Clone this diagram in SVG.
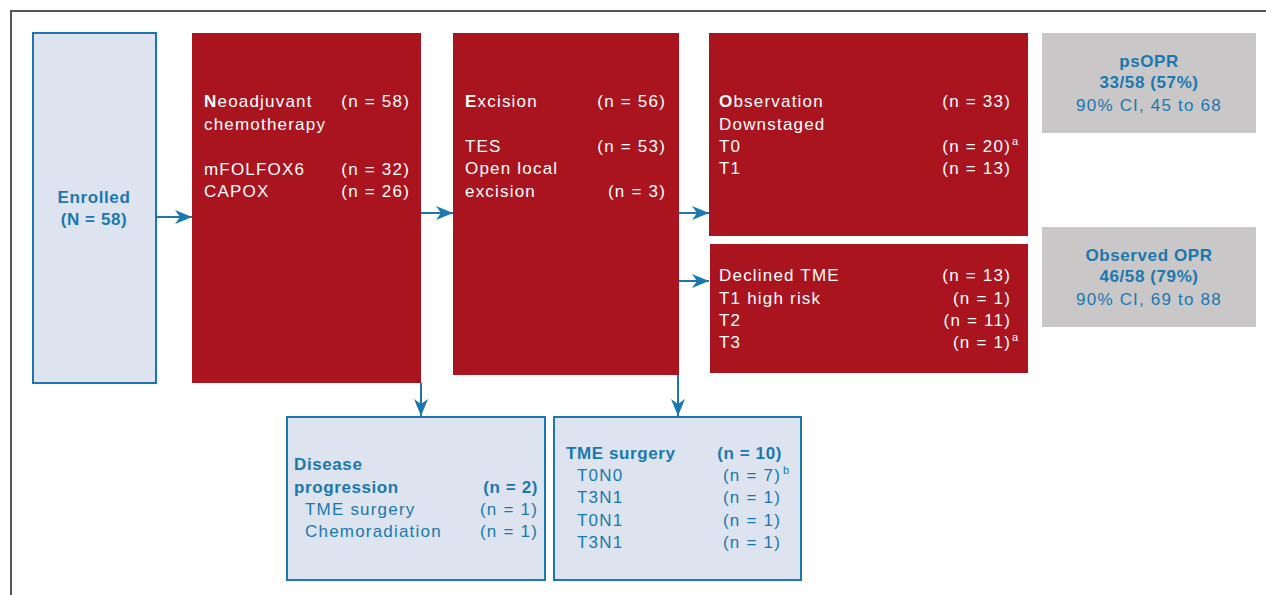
<svg xmlns="http://www.w3.org/2000/svg" width="1266" height="595" viewBox="0 0 1266 595">
<style>
text{font-family:"Liberation Sans",Arial,sans-serif;font-size:17px;letter-spacing:1.2px}
.w{fill:#ffffff}
.b{fill:#1a78ae}
.bold{font-weight:bold;letter-spacing:0.6px}
.e{text-anchor:end}
.m{text-anchor:middle}
.sup{font-size:11px;letter-spacing:0}
.red{fill:#a9141f}
.lb{fill:#dde4f0;stroke:#1a78ae;stroke-width:2}
.gr{fill:#c9c7c8}
.con{stroke:#1a78ae;stroke-width:2;fill:none}
</style>
<defs>
<marker id="ah" markerUnits="userSpaceOnUse" markerWidth="18" markerHeight="16" refX="17" refY="8" orient="auto">
<path d="M0,1 L17,8 L0,15 L5,8 Z" fill="#1a78ae"/>
</marker>
</defs>
<rect width="1266" height="595" fill="#ffffff"/>
<g id="frame">
<path d="M11,595 V11 H1266" fill="none" stroke="#555555" stroke-width="2"/>
</g>
<g id="connectors">
<line class="con" x1="157" y1="217" x2="192" y2="217" marker-end="url(#ah)"/>
<line class="con" x1="421" y1="213" x2="453" y2="213" marker-end="url(#ah)"/>
<line class="con" x1="679" y1="213" x2="709" y2="213" marker-end="url(#ah)"/>
<line class="con" x1="679" y1="281" x2="709" y2="281" marker-end="url(#ah)"/>
<line class="con" x1="421" y1="383" x2="421" y2="416" marker-end="url(#ah)"/>
<line class="con" x1="678" y1="375" x2="678" y2="416" marker-end="url(#ah)"/>
</g>
<g id="enrolled">
<rect class="lb" x="33" y="33" width="123" height="350"/>
<text class="b bold m" x="94" y="203">Enrolled</text>
<text class="b bold m" x="94" y="225">(N = 58)</text>
</g>
<g id="neoadjuvant">
<rect class="red" x="192" y="33" width="229" height="350"/>
<text class="w" x="204" y="107"><tspan font-weight="bold">N</tspan>eoadjuvant</text>
<text class="w e" x="410" y="107">(n = 58)</text>
<text class="w" x="204" y="130">chemotherapy</text>
<text class="w" x="204" y="175">mFOLFOX6</text>
<text class="w e" x="410" y="175">(n = 32)</text>
<text class="w" x="204" y="197">CAPOX</text>
<text class="w e" x="410" y="197">(n = 26)</text>
</g>
<g id="excision">
<rect class="red" x="453" y="33" width="226" height="342"/>
<text class="w" x="465" y="107"><tspan font-weight="bold">E</tspan>xcision</text>
<text class="w e" x="666" y="107">(n = 56)</text>
<text class="w" x="465" y="152">TES</text>
<text class="w e" x="666" y="152">(n = 53)</text>
<text class="w" x="465" y="174">Open local</text>
<text class="w" x="465" y="197">excision</text>
<text class="w e" x="666" y="197">(n = 3)</text>
</g>
<g id="observation">
<rect class="red" x="709" y="33" width="319" height="203"/>
<text class="w" x="719" y="107"><tspan font-weight="bold">O</tspan>bservation</text>
<text class="w e" x="1011" y="107">(n = 33)</text>
<text class="w" x="719" y="130">Downstaged</text>
<text class="w" x="719" y="152">T0</text>
<text class="w e" x="1011" y="152">(n = 20)</text>
<text class="w sup" x="1012" y="145">a</text>
<text class="w" x="719" y="174">T1</text>
<text class="w e" x="1011" y="174">(n = 13)</text>
</g>
<g id="declined">
<rect class="red" x="710" y="244" width="318" height="129"/>
<text class="w" x="719" y="281">Declined TME</text>
<text class="w e" x="1011" y="281">(n = 13)</text>
<text class="w" x="719" y="304">T1 high risk</text>
<text class="w e" x="1011" y="304">(n = 1)</text>
<text class="w" x="719" y="326">T2</text>
<text class="w e" x="1011" y="326">(n = 11)</text>
<text class="w" x="719" y="348">T3</text>
<text class="w e" x="1011" y="348">(n = 1)</text>
<text class="w sup" x="1012" y="341">a</text>
</g>
<g id="psopr">
<rect class="gr" x="1042" y="33" width="214" height="100"/>
<text class="b bold m" x="1149" y="67">psOPR</text>
<text class="b bold m" x="1149" y="88">33/58 (57%)</text>
<text class="b m" x="1149" y="111">90% CI, 45 to 68</text>
</g>
<g id="observed-opr">
<rect class="gr" x="1042" y="227" width="214" height="100"/>
<text class="b bold m" x="1149" y="261">Observed OPR</text>
<text class="b bold m" x="1149" y="282">46/58 (79%)</text>
<text class="b m" x="1149" y="305">90% CI, 69 to 88</text>
</g>
<g id="disease-progression">
<rect class="lb" x="287" y="417" width="258" height="163"/>
<text class="b bold" x="294" y="470">Disease</text>
<text class="b bold" x="294" y="493">progression</text>
<text class="b bold e" x="538" y="493">(n = 2)</text>
<text class="b" x="305" y="515">TME surgery</text>
<text class="b e" x="538" y="515">(n = 1)</text>
<text class="b" x="305" y="537">Chemoradiation</text>
<text class="b e" x="538" y="537">(n = 1)</text>
</g>
<g id="tme-surgery">
<rect class="lb" x="554" y="417" width="247" height="163"/>
<text class="b bold" x="566" y="459">TME surgery</text>
<text class="b bold e" x="782" y="459">(n = 10)</text>
<text class="b" x="577" y="481">T0N0</text>
<text class="b e" x="781" y="481">(n = 7)</text>
<text class="b sup" x="783" y="474">b</text>
<text class="b" x="577" y="503">T3N1</text>
<text class="b e" x="781" y="503">(n = 1)</text>
<text class="b" x="577" y="526">T0N1</text>
<text class="b e" x="781" y="526">(n = 1)</text>
<text class="b" x="577" y="548">T3N1</text>
<text class="b e" x="781" y="548">(n = 1)</text>
</g>
</svg>
